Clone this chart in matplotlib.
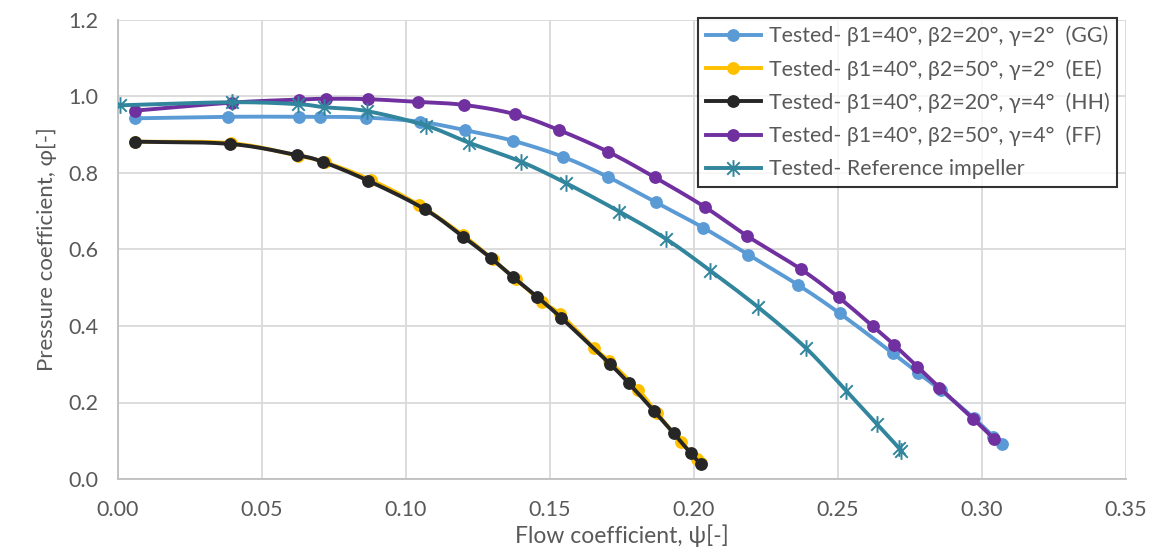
import numpy as np
import matplotlib
matplotlib.use("Agg")
import matplotlib.pyplot as plt
from matplotlib.path import Path
from matplotlib.lines import Line2D

plt.rcParams['font.family'] = ['Lato', 'Noto Sans', 'DejaVu Sans']

# Flow coefficient (x) and pressure coefficient (y) for each impeller
flow_gg = [0.0059, 0.0383, 0.0630, 0.0703, 0.0860, 0.1049, 0.1205, 0.1373, 0.1546, 0.1703, 0.1868,
           0.2032, 0.2189, 0.2362, 0.2506, 0.2690, 0.2779, 0.2857, 0.2972, 0.3039, 0.3068]
press_gg = [0.943, 0.947, 0.947, 0.947, 0.945, 0.934, 0.912, 0.884, 0.842, 0.789, 0.723,
            0.657, 0.586, 0.507, 0.433, 0.329, 0.277, 0.232, 0.159, 0.111, 0.092]

flow_ee = [0.0059, 0.0392, 0.0625, 0.0720, 0.0880, 0.1046, 0.1197, 0.1301, 0.1382, 0.1471, 0.1535,
           0.1654, 0.1706, 0.1807, 0.1870, 0.1954, 0.2012, 0.2023]
press_ee = [0.882, 0.878, 0.845, 0.828, 0.781, 0.716, 0.638, 0.574, 0.522, 0.464, 0.431,
            0.342, 0.308, 0.233, 0.173, 0.098, 0.051, 0.042]

flow_hh = [0.0059, 0.0389, 0.0620, 0.0711, 0.0868, 0.1066, 0.1199, 0.1294, 0.1373, 0.1454, 0.1538,
           0.1708, 0.1774, 0.1862, 0.1930, 0.1988, 0.2023]
press_hh = [0.882, 0.876, 0.847, 0.829, 0.780, 0.705, 0.633, 0.578, 0.527, 0.477, 0.422,
            0.301, 0.250, 0.177, 0.119, 0.068, 0.039]

flow_ff = [0.0059, 0.0395, 0.0630, 0.0721, 0.0867, 0.1040, 0.1201, 0.1377, 0.1532, 0.1703, 0.1863,
           0.2038, 0.2183, 0.2370, 0.2502, 0.2620, 0.2696, 0.2775, 0.2852, 0.2970, 0.3043]
press_ff = [0.963, 0.984, 0.992, 0.994, 0.993, 0.986, 0.978, 0.954, 0.912, 0.855, 0.789,
            0.711, 0.636, 0.549, 0.475, 0.400, 0.350, 0.294, 0.239, 0.157, 0.104]

flow_ref = [0.0007, 0.0395, 0.0624, 0.0716, 0.0863, 0.1069, 0.1219, 0.1398, 0.1557, 0.1741, 0.1904,
            0.2056, 0.2223, 0.2389, 0.2528, 0.2634, 0.2713, 0.2718]
press_ref = [0.977, 0.985, 0.980, 0.972, 0.962, 0.924, 0.879, 0.830, 0.773, 0.699, 0.627,
             0.545, 0.449, 0.342, 0.231, 0.144, 0.080, 0.073]

labels = [
    "Tested- β1=40°, β2=20°, γ=2°  (GG)",
    "Tested- β1=40°, β2=50°, γ=2°  (EE)",
    "Tested- β1=40°, β2=20°, γ=4°  (HH)",
    "Tested- β1=40°, β2=50°, γ=4°  (FF)",
    "Tested- Reference impeller",
]
colors = ["#5B9BD5", "#FFC000", "#262626", "#7030A0", "#31859C"]

x_ticks = [0.00, 0.05, 0.10, 0.15, 0.20, 0.25, 0.30, 0.35]
y_ticks = [0.0, 0.2, 0.4, 0.6, 0.8, 1.0, 1.2]


def smooth(x, y, n=24):
    """Bezier curve through the points (spreadsheet-style smoothed line)."""
    p = np.column_stack([x, y]).astype(float)
    p = np.vstack([2 * p[0] - p[1], p, 2 * p[-1] - p[-2]])
    out = []
    t = np.linspace(0, 1, n)[:, None]
    for i in range(1, len(p) - 2):
        p0, p1, p2, p3 = p[i - 1], p[i], p[i + 1], p[i + 2]
        c1 = p1 + (p2 - p0) / 6.0
        c2 = p2 - (p3 - p1) / 6.0
        seg = ((1 - t) ** 3) * p1 + 3 * ((1 - t) ** 2) * t * c1 + 3 * (1 - t) * t ** 2 * c2 + t ** 3 * p2
        out.append(seg if i == 1 else seg[1:])
    s = np.vstack(out)
    return s[:, 0], s[:, 1]


# asterisk marker: vertical bar plus a diagonal cross
star = Path([(0, -1), (0, 1), (-0.75, -0.75), (0.75, 0.75), (-0.75, 0.75), (0.75, -0.75)],
            [Path.MOVETO, Path.LINETO, Path.MOVETO, Path.LINETO, Path.MOVETO, Path.LINETO])

fig = plt.figure(figsize=(11.53, 5.58), dpi=100)
ax = fig.add_axes([118 / 1153, 79 / 558, 1008 / 1153, 459 / 558])

series = [(flow_gg, press_gg), (flow_ee, press_ee), (flow_hh, press_hh),
          (flow_ff, press_ff), (flow_ref, press_ref)]
lw = 2.8
ms = 8.2
handles = []
for k, ((fx, py), col, lab) in enumerate(zip(series, colors, labels)):
    sx, sy = smooth(fx, py)
    ax.plot(sx, sy, color=col, lw=lw, zorder=3 + k, solid_capstyle='round')
    if k < 4:
        ax.plot(fx, py, 'o', color=col, ms=ms, zorder=3 + k)
        handles.append(Line2D([], [], color=col, lw=lw, marker='o', ms=ms))
    else:
        ax.plot(fx, py, linestyle='none', marker=star, color=col, ms=12, mew=1.4, zorder=3 + k)
        handles.append(Line2D([], [], color=col, lw=lw, marker=star, ms=12, mew=1.4))

ax.set_xlim(0, 0.35)
ax.set_ylim(0, 1.2)
ax.set_xticks(x_ticks)
ax.set_yticks(y_ticks)
ax.set_xticklabels([f"{v:.2f}" for v in x_ticks])
ax.set_yticklabels([f"{v:.1f}" for v in y_ticks])
ax.tick_params(axis='both', length=0, labelsize=15.5, labelcolor="#595959")
ax.tick_params(axis='x', pad=15)
ax.tick_params(axis='y', pad=14)
ax.grid(True, color="#D9D9D9", lw=1.3, zorder=0)
ax.set_axisbelow(True)
for s in ['top', 'right']:
    ax.spines[s].set_visible(False)
for s in ['left', 'bottom']:
    ax.spines[s].set_color("#BFBFBF")
    ax.spines[s].set_linewidth(1.3)

ax.set_xlabel("Flow coefficient, ψ[-]", fontsize=16.5, color="#595959", labelpad=3)
ax.set_ylabel("Pressure coefficient, φ[-]", fontsize=16, color="#595959", labelpad=8)

leg = ax.legend(handles, labels, loc='upper right', bbox_to_anchor=(1117 / 1153, 1 - 18 / 558),
                bbox_transform=fig.transFigure, borderaxespad=0, fontsize=15.4, frameon=True,
                fancybox=False, edgecolor='black', handlelength=2.6, handletextpad=0.35,
                labelspacing=0.6, borderpad=0.35)
leg.get_frame().set_linewidth(1.5)
for t in leg.get_texts():
    t.set_color("#595959")

fig.savefig("out.png", dpi=100)
